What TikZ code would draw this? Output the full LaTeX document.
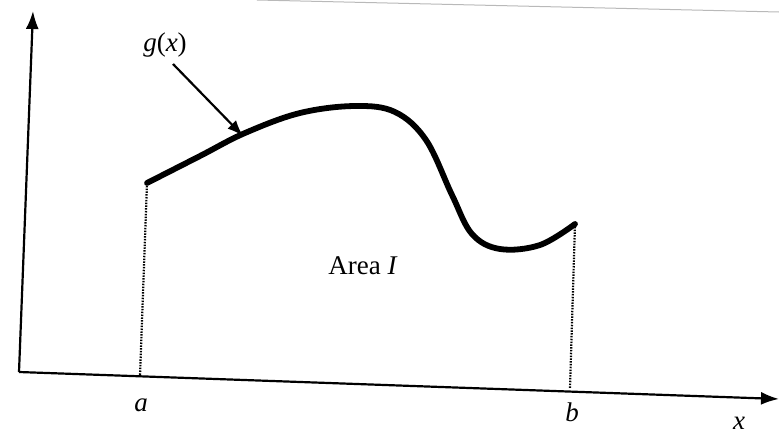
\documentclass[tikz,border=0pt]{standalone}
\usepackage{fontspec}
\setmainfont{Liberation Serif}
\usetikzlibrary{arrows.meta}
\tikzset{
  axisline/.style={line width=2.2pt, -{Latex[length=18pt,width=13pt]}},
  curveline/.style={line width=5.8pt, line cap=round},
  dropline/.style={line width=2.2pt, dash pattern=on 1.5pt off 1.3pt},
  lbl/.style={font=\fontsize{27}{30}\selectfont, inner sep=0pt},
  pointer/.style={line width=2.2pt, -{Latex[length=16pt,width=12pt]}},
}
\begin{document}
\begin{tikzpicture}[x=1pt,y=-1pt]
\useasboundingbox (0,0) rectangle (779,434);
\fill[white] (0,0) rectangle (779,434);
% page edge artifact
\draw[gray!55, line width=1pt] (257,0) -- (779,12);
% axes
\coordinate (O) at (19,372);
\coordinate (ytip) at (33,11);
\coordinate (xtip) at (779,399);
\draw[axisline] (O) -- (ytip);
\draw[axisline] (O) -- (xtip);
% curve
\coordinate (cs) at (147,183);
\coordinate (ce) at (575,224);
\coordinate (ca) at (140,376);
\coordinate (cb) at (570,388);
\draw[curveline] plot[smooth, tension=0.6] coordinates {(147,183) (200,156) (245,133) (300,113) (355,106) (395,112) (426,140) (452,195) (472,234) (500,249) (540,245) (575,224)};
\draw[dropline] (cs) -- (ca);
\draw[dropline] (ce) -- (cb);
% labels
\node[lbl] (la) at (141,405) {\itshape a};
\node[lbl] (lb) at (572,412) {\itshape b};
\node[lbl] (lx) at (739,423) {\itshape x};
\node[lbl] (area) at (363,266) {Area \textit{I}};
\node[lbl] (g) at (165,45) {\textit{g}(\textit{x})};
\coordinate (gpt) at (243,136);
\draw[pointer] (173,64) -- (gpt);
\end{tikzpicture}
\end{document}
